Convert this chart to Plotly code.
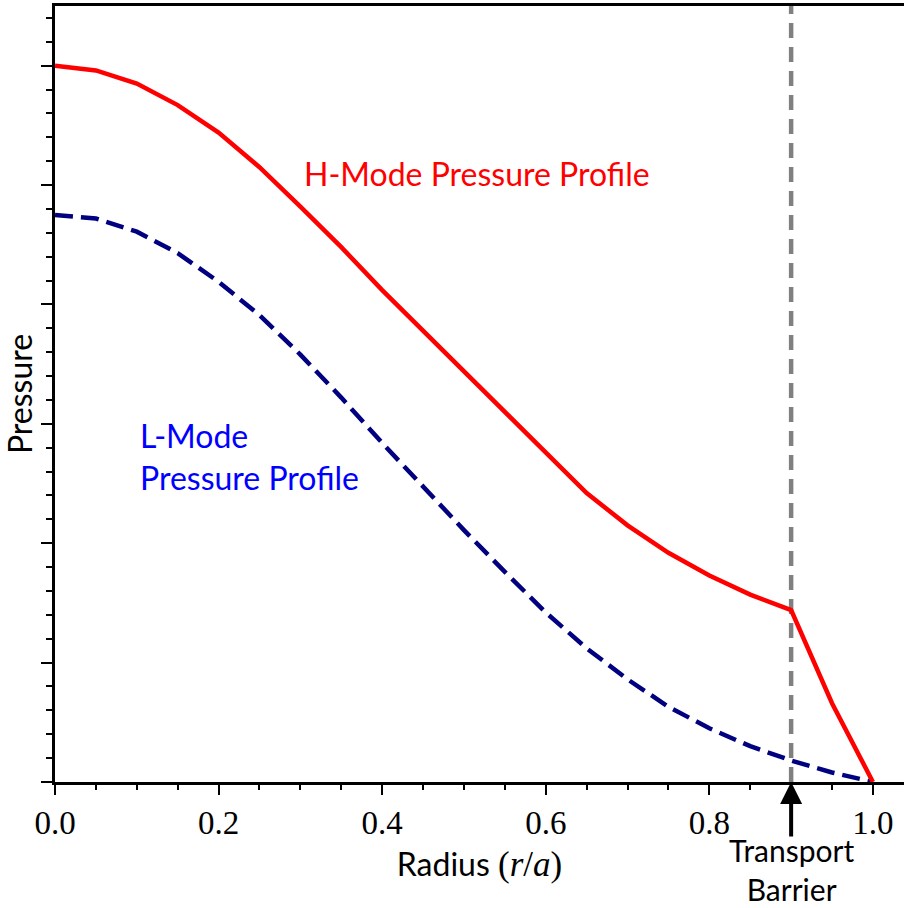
import plotly.graph_objects as go

# ---- data ----
radius = [0.0, 0.05, 0.10, 0.15, 0.20, 0.25, 0.30, 0.35, 0.40, 0.45, 0.50,
          0.55, 0.60, 0.65, 0.70, 0.75, 0.80, 0.85, 0.90, 0.95, 1.00]
h_mode = [6.00, 5.96, 5.85, 5.67, 5.44, 5.15, 4.82, 4.48, 4.12, 3.78, 3.44,
          3.10, 2.76, 2.42, 2.15, 1.92, 1.73, 1.57, 1.44, 0.66, 0.00]
l_mode = [4.75, 4.72, 4.61, 4.43, 4.19, 3.91, 3.58, 3.22, 2.84, 2.47, 2.11,
          1.76, 1.42, 1.12, 0.86, 0.63, 0.45, 0.30, 0.18, 0.08, 0.00]
barrier_x = 0.9
x_ticks = [0.0, 0.2, 0.4, 0.6, 0.8, 1.0]
x_tick_labels = ["0.0", "0.2", "0.4", "0.6", "0.8", "1.0"]

SANS = "Lato, 'DejaVu Sans', sans-serif"
SERIF = "'Liberation Serif', 'DejaVu Serif', serif"

fig = go.Figure()
fig.add_shape(type="line", x0=barrier_x, x1=barrier_x, y0=0, y1=1,
              xref="x", yref="paper", layer="below",
              line=dict(color="#808080", width=4.5, dash="15px,9px"))
fig.add_trace(go.Scatter(x=radius, y=l_mode, mode="lines",
                         line=dict(color="#000080", width=4.5, dash="18px,8px"),
                         showlegend=False))
fig.add_trace(go.Scatter(x=radius, y=h_mode, mode="lines",
                         line=dict(color="#FF0000", width=4.5),
                         showlegend=False))

# text labels
fig.add_annotation(x=0.302, y=5.10, xref="x", yref="y",
                   text="H-Mode Pressure Profile", showarrow=False,
                   xanchor="left", yanchor="middle",
                   font=dict(family=SANS, size=32, color="#FF0000"))
fig.add_annotation(x=0.1015, y=2.73, xref="x", yref="y",
                   text="L-Mode<br>Pressure Profile", showarrow=False,
                   xanchor="left", yanchor="middle", align="left",
                   font=dict(family=SANS, size=32, color="#0000FF"))

# transport barrier arrow and label
fig.add_annotation(x=barrier_x, y=0, xref="x", yref="y", text="",
                   showarrow=True, arrowhead=2, arrowsize=1.1, arrowwidth=4,
                   arrowcolor="black", ax=0, ay=56, standoff=0)
fig.add_annotation(x=barrier_x, y=-0.0618, xref="x", yref="paper",
                   text="Transport<br>Barrier", showarrow=False,
                   xanchor="center", yanchor="top", align="center",
                   font=dict(family=SANS, size=30, color="black"))

fig.update_layout(
    width=904, height=908,
    margin=dict(l=55, r=0, t=6, b=126),
    paper_bgcolor="white", plot_bgcolor="white",
    showlegend=False,
)
fig.update_xaxes(
    range=[0, 1.038], showgrid=False, zeroline=False,
    showline=True, linecolor="black", linewidth=2.5, mirror=True,
    ticks="outside", ticklen=10, tickwidth=2, tickcolor="black",
    tickvals=x_ticks, ticktext=x_tick_labels,
    tickfont=dict(family=SERIF, size=33, color="black"),
    minor=dict(dtick=0.05, tick0=0, ticks="outside", ticklen=5, tickwidth=2, tickcolor="black"),
    title=dict(text="Radius <span style='font-family:Liberation Serif;font-size:35px'>(<i>r</i>/<i>a</i>)</span>",
               font=dict(family=SANS, size=32, color="black"), standoff=14),
)
fig.update_yaxes(
    range=[0, 6.5], showgrid=False, zeroline=False,
    showline=True, linecolor="black", linewidth=2.5, mirror=False,
    ticks="outside", ticklen=11, tickwidth=2, tickcolor="black",
    dtick=1, tick0=0, showticklabels=False,
    minor=dict(dtick=0.2, tick0=0, ticks="outside", ticklen=6, tickwidth=2, tickcolor="black"),
    title=dict(text="Pressure", font=dict(family=SANS, size=32, color="black"), standoff=8),
)

fig.write_html("out.html")
